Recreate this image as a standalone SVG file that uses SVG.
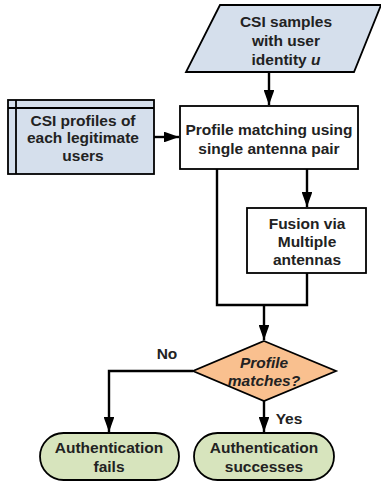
<svg xmlns="http://www.w3.org/2000/svg" width="381" height="487" viewBox="0 0 381 487">
<defs>
<marker id="ah" viewBox="0 0 14 10" refX="14" refY="5" markerWidth="6.5" markerHeight="4.5" orient="auto" markerUnits="strokeWidth">
<path d="M0,0 L14,5 L0,10 z" fill="#000"/>
</marker>
<style>
.t{font-family:"Liberation Sans",Arial,sans-serif;font-weight:bold;font-size:15.5px;fill:#222;text-anchor:middle}
.s{stroke:#000;stroke-width:1.8}
.c{fill:none;stroke:#000;stroke-width:2.4}
.blue{fill:#D5DFEC}
</style>
</defs>
<rect width="381" height="487" fill="#fff"/>
<g id="csi-samples">
<polygon class="s blue" points="220,5 381,5 354,72 186,72"/>
<text class="t" x="286" y="27">CSI samples</text>
<text class="t" x="286" y="46">with user</text>
<text class="t" x="286" y="65">identity <tspan font-style="italic">u</tspan></text>
</g>
<g id="csi-profiles">
<rect class="s blue" x="8" y="100" width="146" height="74"/>
<line class="s" x1="8" y1="108" x2="154" y2="108" stroke-width="1"/>
<line class="s" x1="16" y1="100" x2="16" y2="174" stroke-width="1"/>
<text class="t" x="83" y="126">CSI profiles of</text>
<text class="t" x="83" y="143">each legitimate</text>
<text class="t" x="83" y="161">users</text>
</g>
<g id="profile-matching">
<rect class="s" fill="#fff" x="180" y="106" width="178" height="63"/>
<text class="t" x="269" y="135">Profile matching using</text>
<text class="t" x="269" y="154">single antenna pair</text>
</g>
<g id="fusion">
<rect class="s" fill="#fff" x="247" y="208" width="119" height="65"/>
<text class="t" x="307" y="229">Fusion via</text>
<text class="t" x="307" y="247">Multiple</text>
<text class="t" x="307" y="265">antennas</text>
</g>
<g id="decision">
<polygon class="s" fill="#F9C08F" points="264,341 336,371 264,401 193,371"/>
<text class="t" x="264" y="368" font-style="italic">Profile</text>
<text class="t" x="264" y="386" font-style="italic">matches?</text>
</g>
<g id="auth-fails">
<rect class="s" fill="#D7E4BD" x="40" y="433" width="139" height="47" rx="23.5"/>
<text class="t" x="109" y="453">Authentication</text>
<text class="t" x="109" y="472">fails</text>
</g>
<g id="auth-success">
<rect class="s" fill="#D7E4BD" x="194" y="433" width="140" height="47" rx="23.5"/>
<text class="t" x="264" y="453">Authentication</text>
<text class="t" x="264" y="472">successes</text>
</g>
<g id="connectors">
<line class="c" x1="269" y1="72" x2="269" y2="105" marker-end="url(#ah)"/>
<line class="c" x1="154" y1="137" x2="179" y2="137" marker-end="url(#ah)"/>
<line class="c" x1="307" y1="169" x2="307" y2="207" marker-end="url(#ah)"/>
<polyline class="c" points="217,169 217,305 307,305 307,273"/>
<line class="c" x1="264" y1="305" x2="264" y2="340" marker-end="url(#ah)"/>
<polyline class="c" points="193,371 109,371 109,432" marker-end="url(#ah)"/>
<line class="c" x1="264" y1="401" x2="264" y2="432" marker-end="url(#ah)"/>
<text class="t" x="167" y="359">No</text>
<text class="t" x="289" y="424">Yes</text>
</g>
</svg>
